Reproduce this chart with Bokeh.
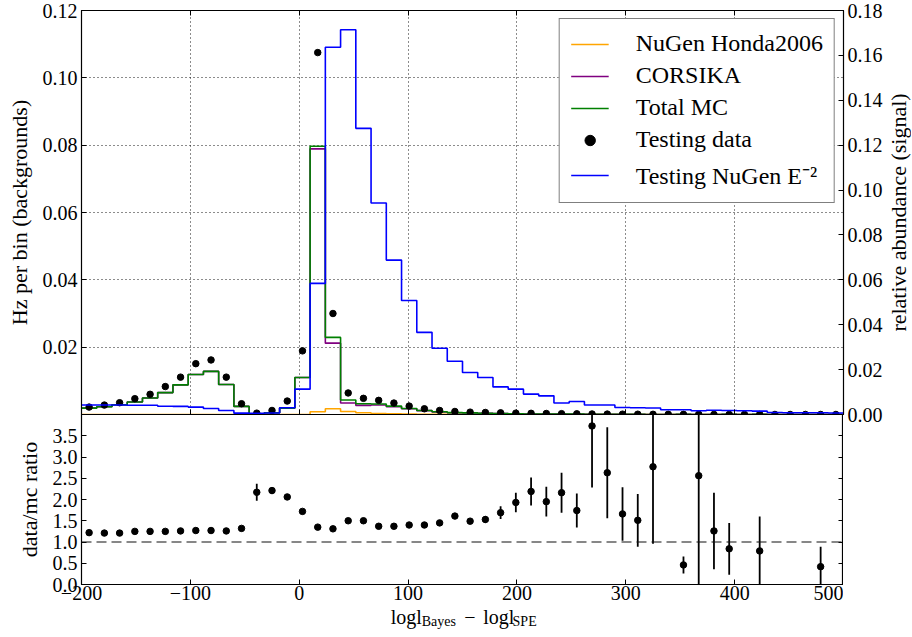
import math
import numpy as np
from bokeh.plotting import figure
from bokeh.layouts import column, row
from bokeh.models import (Range1d, LinearAxis, FixedTicker, PrintfTickFormatter,
                          Span, Legend, LegendItem)
from bokeh.core.properties import value
from bokeh.embed import file_html
from bokeh.resources import INLINE

# ---------------- data ----------------
bin_edges = list(range(-200, 501, 14))          # 50 bins of width 14
bin_centers = [e + 7 for e in bin_edges[:-1]]

testing_data = [0.0022, 0.0028, 0.0035, 0.0047, 0.0060, 0.0083, 0.0111, 0.0151, 0.0162, 0.0111,
                0.0032, 0.0004, 0.0012, 0.0040, 0.0189, 0.1075, 0.0300, 0.0064, 0.0048, 0.0042,
                0.0034, 0.0025, 0.0017, 0.0012, 0.0009, 0.0007, 0.0006, 0.0005, 0.0004, 0.00035,
                0.0003, 0.00025, 0.0002, 0.00015, 0.00012, 0.0001, 0.00008, 0.00006, 0.00005, 0.00004,
                0.00004, 0.00003, 0.00003, 0.00002, 0.00002, 0.00001, 0.00001, 0.00001, 0.00001, 0.00001]

total_mc = [0.0019, 0.0023, 0.0029, 0.0037, 0.0049, 0.0065, 0.0088, 0.0119, 0.0128, 0.0089,
            0.0024, 0.0002, 0.0005, 0.0019, 0.0110, 0.0797, 0.0229, 0.0043, 0.0032, 0.0031,
            0.0025, 0.0018, 0.0012, 0.0008, 0.00056, 0.00047, 0.00039, 0.0003, 0.0002, 0.00016,
            0.00015, 0.00012, 0.00011, 0.00004, 0.00005, 0.00006, 0.00005, 0.00002, 0.00001, 0.00008,
            0.00002, 0.00002, 0.00003, 0.00001, 0.00003, 0.00001, 0.00001, 0.00001, 0.00002, 0.00001]

corsika = [0.0019, 0.0023, 0.0029, 0.0037, 0.0049, 0.0065, 0.0088, 0.0119, 0.0128, 0.0089,
           0.0024, 0.0002, 0.0005, 0.0019, 0.0110, 0.0789, 0.0212, 0.0034, 0.0027, 0.0028,
           0.0023, 0.0017, 0.00115, 0.00076, 0.00053, 0.00045, 0.00038, 0.00029, 0.0002, 0.00016,
           0.00015, 0.00012, 0.00011, 0.00004, 0.00005, 0.00006, 0.00005, 0.00002, 0.00001, 0.00008,
           0.00002, 0.00002, 0.00003, 0.00001, 0.00003, 0.00001, 0.00001, 0.00001, 0.00002, 0.00001]

nugen_honda = [0.0, 0.0, 0.0, 0.0, 0.0, 0.0, 0.0, 0.0, 0.0, 0.0,
               0.0, 0.0, 0.0, 0.0, 0.00002, 0.0008, 0.0017, 0.0009, 0.0005, 0.0003,
               0.0002, 0.0001, 0.00005, 0.00004, 0.00003, 0.00002, 0.00001, 0.00001, 0.00001, 0.0,
               0.0, 0.0, 0.0, 0.0, 0.0, 0.0, 0.0, 0.0, 0.0, 0.0,
               0.0, 0.0, 0.0, 0.0, 0.0, 0.0, 0.0, 0.0, 0.0, 0.0]

signal_e2 = [0.0042, 0.0042, 0.0042, 0.0041, 0.0041, 0.0037, 0.0036, 0.0033, 0.0027, 0.0018,
             0.0006, 0.0005, 0.0007, 0.0030, 0.0113, 0.0584, 0.1636, 0.1714, 0.1275, 0.0942,
             0.0688, 0.0508, 0.0366, 0.0295, 0.0237, 0.0187, 0.0165, 0.0123, 0.0113, 0.0091,
             0.0083, 0.0051, 0.0058, 0.0042, 0.0042, 0.0031, 0.0030, 0.0029, 0.0021, 0.0021,
             0.0017, 0.0019, 0.0018, 0.0017, 0.0015, 0.0009, 0.0008, 0.0008, 0.0008, 0.0007]

nan = float("nan")
ratio = [1.22, 1.21, 1.21, 1.25, 1.25, 1.25, 1.26, 1.27, 1.27, 1.26,
         1.32, 2.17, 2.21, 2.06, 1.72, 1.35, 1.31, 1.50, 1.50, 1.37,
         1.37, 1.40, 1.40, 1.45, 1.61, 1.49, 1.53, 1.69, 1.93, 2.19,
         1.95, 2.16, 1.74, 3.73, 2.63, 1.66, 1.51, 2.77, nan, 0.46,
         2.56, 1.26, 0.84, nan, 0.79, nan, nan, nan, 0.42, nan]

ratio_err = [0.02, 0.02, 0.02, 0.02, 0.02, 0.02, 0.02, 0.02, 0.02, 0.02,
             0.02, 0.20, 0.08, 0.04, 0.03, 0.02, 0.02, 0.03, 0.03, 0.03,
             0.03, 0.03, 0.03, 0.04, 0.05, 0.05, 0.08, 0.15, 0.23, 0.33,
             0.35, 0.47, 0.40, 1.45, 1.07, 0.63, 0.62, 1.81, nan, 0.20,
             2.60, 0.90, 0.61, nan, 0.81, nan, nan, nan, 0.47, nan]

left_ticks = [0.02, 0.04, 0.06, 0.08, 0.10, 0.12]
right_ticks = [0.00, 0.02, 0.04, 0.06, 0.08, 0.10, 0.12, 0.14, 0.16, 0.18]
x_ticks = [-200, -100, 0, 100, 200, 300, 400, 500]
grid_x = [-100, 0, 100, 200, 300, 400]
ratio_ticks = [0.0, 0.5, 1.0, 1.5, 2.0, 2.5, 3.0, 3.5]

FONT = "Liberation Serif"
TICK_FS = "20px"
LABEL_FS = "22px"


def step_y(v):
    return list(v) + [v[-1]]


def style_axis(ax, labels=True):
    ax.major_tick_in = 5
    ax.major_tick_out = 0
    ax.minor_tick_line_color = None
    ax.axis_line_color = "black"
    ax.major_tick_line_color = "black"
    ax.major_label_text_font = FONT
    ax.major_label_text_color = "black"
    ax.axis_label_text_font = FONT
    ax.axis_label_text_font_style = "normal"
    ax.axis_label_text_font_size = LABEL_FS
    ax.axis_label_text_color = "black"
    if labels:
        ax.major_label_text_font_size = TICK_FS
        ax.major_label_standoff = 4
    else:
        ax.major_label_text_font_size = "0px"
        ax.major_label_standoff = 0


def blank_fig(**kw):
    f = figure(output_backend="svg", toolbar_location=None,
               x_axis_location=None, y_axis_location=None, **kw)
    f.outline_line_color = None
    f.grid.visible = False
    f.border_fill_color = None
    f.background_fill_color = None
    return f


# ---------------- top panel ----------------
top = figure(frame_width=762, frame_height=404,
             x_range=Range1d(-200, 500), y_range=Range1d(0, 0.12),
             output_backend="svg", toolbar_location=None,
             min_border_left=81, min_border_right=0, min_border_top=10, min_border_bottom=10)
top.outline_line_color = "black"
top.outline_line_width = 1.2
top.background_fill_color = "white"
top.border_fill_color = None

top.xaxis.ticker = FixedTicker(ticks=x_ticks)
style_axis(top.xaxis[0], labels=False)
top.yaxis.ticker = FixedTicker(ticks=left_ticks)
top.yaxis.formatter = PrintfTickFormatter(format="%.2f")
style_axis(top.yaxis[0])
top.yaxis.axis_label = "Hz per bin (backgrounds)"
top.yaxis.axis_label_standoff = 8

top_above = LinearAxis(ticker=FixedTicker(ticks=x_ticks))
style_axis(top_above, labels=False)
top.add_layout(top_above, "above")

top.extra_y_ranges = {"sig": Range1d(0, 0.18)}
right_ax = LinearAxis(y_range_name="sig", ticker=FixedTicker(ticks=right_ticks),
                      formatter=PrintfTickFormatter(format="%.2f"))
style_axis(right_ax)
top.add_layout(right_ax, "right")

top.xgrid.ticker = FixedTicker(ticks=grid_x)
top.ygrid.ticker = FixedTicker(ticks=left_ticks)
for g in (top.xgrid[0], top.ygrid[0]):
    g.grid_line_color = "black"
    g.grid_line_dash = "1 3"
    g.grid_line_width = 1
    g.grid_line_alpha = 0.9

r_nu = top.step(bin_edges, step_y(nugen_honda), mode="after", line_color="#FFA500", line_width=1.6)
r_cor = top.step(bin_edges, step_y(corsika), mode="after", line_color="#800080", line_width=1.6)
r_tot = top.step(bin_edges, step_y(total_mc), mode="after", line_color="#008000", line_width=1.6)
r_dat = top.scatter(bin_centers, testing_data, size=6.5, color="black")
r_sig = top.step(bin_edges, step_y(signal_e2), mode="after", line_color="#0000FF", line_width=1.6,
                 y_range_name="sig")

legend = Legend(items=[
    LegendItem(label="NuGen Honda2006", renderers=[r_nu]),
    LegendItem(label="CORSIKA", renderers=[r_cor]),
    LegendItem(label="Total MC", renderers=[r_tot]),
    LegendItem(label="Testing data", renderers=[r_dat]),
    LegendItem(label="Testing NuGen E\u207B\u00B2", renderers=[r_sig]),
], location="top_right")
legend.label_text_font = FONT
legend.label_text_font_size = "24px"
legend.label_text_color = "black"
legend.glyph_width = 38
legend.glyph_height = 26
legend.label_height = 26
legend.label_standoff = 27
legend.spacing = 5
legend.padding = 11
legend.margin = 8
legend.border_line_color = "black"
legend.border_line_width = 1.2
legend.background_fill_alpha = 1
top.add_layout(legend)

# right-hand axis title (reads bottom to top, as in the reference)
rlab = blank_fig(frame_width=26, frame_height=404, x_range=Range1d(0, 1), y_range=Range1d(0, 1),
                 min_border_left=0, min_border_right=0, min_border_top=10, min_border_bottom=10)
rlab.text(x=[0.5], y=[0.5], text=["relative abundance (signal)"], angle=math.pi / 2,
          text_align="center", text_baseline="middle", text_font=value(FONT),
          text_font_size="22px", text_color="black")

# ---------------- bottom panel ----------------
bot = figure(frame_width=762, frame_height=170,
             x_range=top.x_range, y_range=Range1d(0, 4.0),
             output_backend="svg", toolbar_location=None,
             min_border_left=81, min_border_right=0, min_border_top=0, min_border_bottom=0)
bot.outline_line_color = "black"
bot.outline_line_width = 1.2
bot.border_fill_color = None
bot.xgrid.visible = False
bot.ygrid.visible = False
bot.margin = (-10, 0, 0, 0)

bot.xaxis.ticker = FixedTicker(ticks=x_ticks)
bot.xaxis.major_label_overrides = {-200: "\u2212200", -100: "\u2212100"}
style_axis(bot.xaxis[0])
bot.xaxis.major_label_standoff = 1
bot.yaxis.ticker = FixedTicker(ticks=ratio_ticks)
bot.yaxis.formatter = PrintfTickFormatter(format="%.1f")
style_axis(bot.yaxis[0])
bot.yaxis.axis_label = "data/mc ratio"
bot.yaxis.axis_label_standoff = 8

bot_right = LinearAxis(ticker=FixedTicker(ticks=ratio_ticks))
style_axis(bot_right, labels=False)
bot.add_layout(bot_right, "right")

bot.add_layout(Span(location=1.0, dimension="width", line_color="#111111",
                    line_dash="10 5", line_width=1.2))

rx, rlo, rhi, ry = [], [], [], []
for c, r, e in zip(bin_centers, ratio, ratio_err):
    if np.isfinite(r):
        rx.append(c)
        ry.append(r)
        rlo.append(r - e)
        rhi.append(r + e)
bot.segment(x0=rx, y0=rlo, x1=rx, y1=rhi, line_color="black", line_width=1.8)
bot.scatter(rx, ry, size=6.5, color="black")

# ---------------- x axis title with subscripts (real text) ----------------
xlab = blank_fig(frame_width=762, frame_height=29, x_range=top.x_range, y_range=Range1d(0, 1),
                 min_border_left=81, min_border_right=0, min_border_top=0, min_border_bottom=0)
xlab.text(x=[84.0, 151.5, 169.0], y=[0.50, 0.50, 0.50], text=["logl", "\u2212", "logl"],
          text_font=value(FONT), text_font_size="20px", text_color="black",
          text_baseline="alphabetic", text_align="left")
xlab.text(x=[112.5, 196.0], y=[0.33, 0.33], text=["Bayes", "SPE"],
          text_font=value(FONT), text_font_size="14px", text_color="black",
          text_baseline="alphabetic", text_align="left")

layout = column(row(top, rlab, spacing=0), bot, xlab, spacing=0)
open("out.html", "w").write(file_html(layout, INLINE))
